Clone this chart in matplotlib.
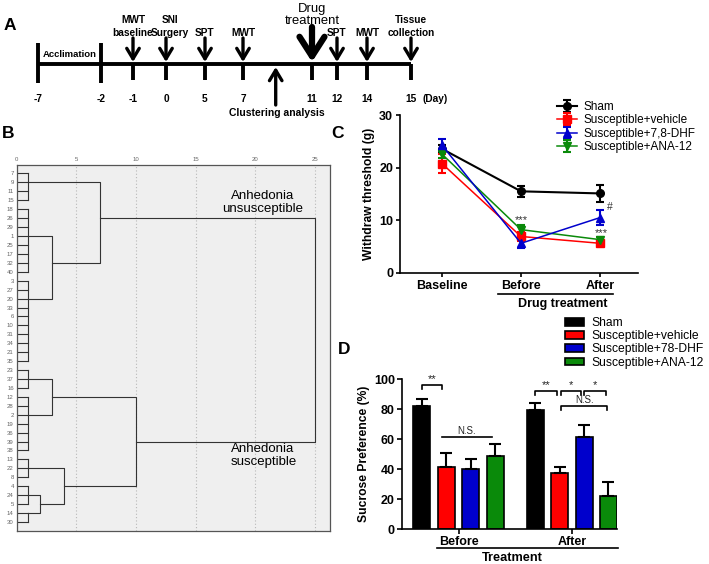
import matplotlib.pyplot as plt
import numpy as np

plt.rcParams["font.family"] = ["Liberation Sans", "DejaVu Sans"]

W, H = 709, 564

# ---------------- panel A: experiment timeline
DAY_LABELS = ["-7", "-2", "-1", "0", "5", "7", "11", "12", "14", "15"]
EVENT_LABELS = ["", "", "MWT\nbaseline", "SNI\nSurgery", "SPT", "MWT",
                "Drug\ntreatment", "SPT", "MWT", "Tissue\ncollection"]
PHASE_LABEL = "Acclimation"
CLUSTER_LABEL = "Clustering analysis"

# ---------------- panel B: hierarchical clustering (rescaled distance)
LEAVES = ["7", "9", "11", "15", "18", "26", "29", "1", "25", "17", "32", "40",
          "3", "27", "20", "33", "6", "10", "31", "34", "21", "35",
          "23", "37", "16", "12", "28", "2", "19", "36", "39", "38",
          "13", "22", "8", "4", "24", "5", "14", "30"]
# (name, first leaf row, last leaf row, join distance, node row)
LEAF_GROUPS = [("g1", 0, 3, 1, 1), ("g2", 4, 11, 1, 7), ("g3", 12, 21, 1, 14),
               ("g4", 22, 24, 1, 23), ("g5", 25, 31, 1, 27), ("g6", 32, 34, 1, 33),
               ("g7", 35, 37, 1, 36), ("g8", 38, 39, 1, 38)]
# (node a, node b, join distance, new node, node row)
MERGES = [("g2", "g3", 3, "m23", 10), ("g1", "m23", 7, "unsus", 5),
          ("g4", "g5", 3, "m45", 25), ("g7", "g8", 2, "m78", 37),
          ("g6", "m78", 4, "m678", 35), ("m45", "m678", 10, "sus", 30),
          ("unsus", "sus", 25, "root", None)]

# ---------------- panel C: mechanical withdrawal threshold
C_TIMES = ["Baseline", "Before", "After"]
C_GROUPS = ["Sham", "Susceptible+vehicle", "Susceptible+7,8-DHF", "Susceptible+ANA-12"]
C_MEAN = [[23.6, 15.5, 15.1], [20.8, 6.9, 5.6], [24.3, 5.6, 10.5], [22.6, 8.2, 6.3]]
C_SEM = [[0.8, 1.0, 1.7], [1.8, 0.8, 0.5], [1.2, 0.9, 1.35], [0.8, 0.9, 0.5]]

# ---------------- panel D: sucrose preference
D_TIMES = ["Before", "After"]
D_GROUPS = ["Sham", "Susceptible+vehicle", "Susceptible+78-DHF", "Susceptible+ANA-12"]
D_MEAN = [[82.2, 41.6, 39.9, 49.0], [79.5, 37.6, 61.2, 22.3]]
D_SEM = [[4.4, 9.0, 7.0, 7.8], [5.0, 3.6, 8.3, 9.3]]

COLORS = ["#000000", "#ff0000", "#0000cc", "#0a8a0a"]
MARKERS = ["o", "s", "^", "v"]


def px_box(left, top, right, bottom):
    return [left / W, 1 - bottom / H, (right - left) / W, (bottom - top) / H]


fig = plt.figure(figsize=(W / 100, H / 100), dpi=100)

# ---------------- B
axB = fig.add_axes(px_box(16.5, 165, 330, 530.7))
axB.set_facecolor("#efefef")
dcol = "#333333"
nodes = {}
for name, r0, r1, dist, row in LEAF_GROUPS:
    for r in range(r0, r1 + 1):
        axB.plot([0, dist], [r, r], color=dcol, lw=0.8)
    axB.plot([dist, dist], [r0, r1], color=dcol, lw=0.8)
    nodes[name] = (dist, row)
for a, b, dist, name, row in MERGES:
    xa, ya = nodes[a]
    xb, yb = nodes[b]
    axB.plot([xa, dist, dist, xb], [ya, ya, yb, yb], color=dcol, lw=0.8)
    nodes[name] = (dist, row)
axB.set_xlim(0, 26.26)
axB.set_ylim(39.98, -0.95)
axB.xaxis.tick_top()
axB.set_xticks(np.arange(0, 26, 5))
axB.set_yticks(np.arange(len(LEAVES)))
axB.set_yticklabels(LEAVES)
axB.tick_params(length=0, labelsize=4.3, labelcolor="#666666", pad=2)
axB.grid(axis="x", ls=(0, (1, 2)), color="#b8b8b8", lw=0.8)
for s in axB.spines.values():
    s.set_color("#555555")
    s.set_linewidth(0.9)
axB.text(20.6, 3.2, "Anhedonia\nunsusceptible", ha="center", va="center",
         fontsize=9.5, linespacing=1.1)
axB.text(17.96, 31.55, "Anhedonia\nsusceptible", ha="left", va="center",
         fontsize=9.5, linespacing=1.1)

# ---------------- C
axC = fig.add_axes(px_box(400, 115.2, 638, 272.7))
xc = np.arange(len(C_TIMES))
handles = [None] * len(C_GROUPS)
for i in [0, 1, 3, 2]:
    h = axC.errorbar(xc, C_MEAN[i], yerr=C_SEM[i], color=COLORS[i], marker=MARKERS[i],
                     ms=5.5, lw=1.5 if i == 0 else 1.1, elinewidth=1.5, capsize=3,
                     capthick=1.5, label=C_GROUPS[i])
    handles[i] = h
axC.set_xlim(-0.53, 2.48)
axC.set_ylim(0, 30)
axC.set_yticks([0, 10, 20, 30])
axC.set_xticks(xc)
axC.set_xticklabels(C_TIMES)
axC.spines[["top", "right"]].set_visible(False)
for s in axC.spines.values():
    s.set_linewidth(1.2)
axC.tick_params(width=1.2, length=3, labelsize=9, pad=2)
for t in axC.get_xticklabels() + axC.get_yticklabels():
    t.set_fontweight("bold")
axC.set_ylabel("Withdraw threshold (g)", fontsize=8.7, fontweight="bold", labelpad=3)
axC.text(1, 10.0, "***", ha="center", va="center", fontsize=8, color="#333333")
axC.text(2.02, 7.6, "***", ha="center", va="center", fontsize=8, color="#333333")
axC.text(2.12, 12.5, "#", ha="center", va="center", fontsize=7.5, color="#333333")
axC.legend(handles=handles, labels=C_GROUPS, loc="upper left",
           bbox_to_anchor=(556.7 / W, 1 - 101 / H), bbox_transform=fig.transFigure,
           frameon=False, borderpad=0, borderaxespad=0, fontsize=8.5,
           handlelength=1.7, handletextpad=0.6, labelspacing=0.12)

# ---------------- D
axD = fig.add_axes(px_box(401.7, 379.3, 617, 529))
n = len(D_GROUPS)
group_step = n + 0.65
bars = []
for g, t in enumerate(D_TIMES):
    pos = g * group_step + np.arange(n)
    for i in range(n):
        b = axD.bar(pos[i], D_MEAN[g][i], width=0.7, color=COLORS[i], edgecolor="black",
                    lw=1.2, yerr=[[0], [D_SEM[g][i]]],
                    error_kw=dict(ecolor="black", elinewidth=1.5, capsize=4.5, capthick=1.5),
                    label=D_GROUPS[i] if g == 0 else None)
        if g == 0:
            bars.append(b)
axD.set_xlim(-0.83, 8.0)
axD.set_ylim(0, 100)
axD.set_yticks(np.arange(0, 101, 20))
axD.set_xticks([i * group_step + (n - 1) / 2 for i in range(len(D_TIMES))])
axD.set_xticklabels(D_TIMES)
axD.spines[["top", "right"]].set_visible(False)
for s in axD.spines.values():
    s.set_linewidth(1.2)
axD.tick_params(width=1.2, length=3.5, labelsize=9, pad=1.5)
for t in axD.get_xticklabels() + axD.get_yticklabels():
    t.set_fontweight("bold")
axD.set_ylabel("Sucrose Preference (%)", fontsize=8.7, fontweight="bold", labelpad=3)


def bracket(ax, x0, x1, y, label, drop=2.9, fs=8, text_dy=0.6):
    if drop:
        ax.plot([x0, x0, x1, x1], [y - drop, y, y, y - drop], color="black", lw=1.2)
    else:
        ax.plot([x0, x1], [y, y], color="black", lw=1.2)
    ax.text((x0 + x1) / 2, y + text_dy, label, ha="center", va="bottom", fontsize=fs,
            color="#222222")


bracket(axD, 0.0, 0.83, 96.2, "**")
bracket(axD, 0.82, 2.86, 61.7, "N.S.", drop=0, fs=7)
a0 = group_step
bracket(axD, a0 - 0.02, a0 + 0.87, 92.4, "**")
bracket(axD, a0 + 1.05, a0 + 1.87, 92.4, "*")
bracket(axD, a0 + 2.01, a0 + 2.89, 92.4, "*")
bracket(axD, a0 + 1.05, a0 + 2.95, 82.2, "N.S.", fs=7)
axD.legend(handles=bars, labels=D_GROUPS, loc="upper left",
           bbox_to_anchor=(565 / W, 1 - 317 / H), bbox_transform=fig.transFigure,
           frameon=False, borderpad=0, borderaxespad=0, fontsize=8.7,
           handlelength=1.55, handleheight=0.6, handletextpad=0.6, labelspacing=0.1)

# ---------------- overlay: timeline, panel letters, group labels (pixel units)
ov = fig.add_axes([0, 0, 1, 1])
ov.set_xlim(0, W)
ov.set_ylim(H, 0)
ov.axis("off")
ov.patch.set_alpha(0)

TL_X = [37.7, 101, 133, 166, 205, 243, 312, 337, 367, 411]
TL_Y = 64
ov.plot([TL_X[0], TL_X[-1]], [TL_Y, TL_Y], color="black", lw=2.8, solid_capstyle="butt")
for i, (x, day, ev) in enumerate(zip(TL_X, DAY_LABELS, EVENT_LABELS)):
    if ev == "":
        ov.plot([x, x], [43, 83], color="black", lw=2.8, solid_capstyle="butt")
    else:
        ov.plot([x, x], [TL_Y, 80], color="black", lw=2.8, solid_capstyle="butt")
        big = ev.startswith("Drug")
        ov.annotate("", xy=(x, 62), xytext=(x, 27 if big else 38),
                    arrowprops=dict(arrowstyle="->,head_length=1.4,head_width=0.9" if big
                                    else "->,head_length=0.75,head_width=0.45",
                                    lw=4.5 if big else 2.4, color="black",
                                    mutation_scale=10, shrinkA=0, shrinkB=0))
        if big:
            ov.text(x, 27, ev, ha="center", va="bottom", fontsize=9.4, linespacing=1.0)
        else:
            dx = 4 if ev.startswith("SNI") else 0
            ov.text(x + dx, 38.5, ev, ha="center", va="bottom", fontsize=7.3,
                    fontweight="bold", linespacing=1.4)
    ov.text(x, 99, day, ha="center", va="center", fontsize=7.3, fontweight="bold")
ov.text(435, 99, "(Day)", ha="center", va="center", fontsize=7.3, fontweight="bold")
ov.text(70, 54.3, PHASE_LABEL, ha="center", va="center", fontsize=6.8, fontweight="bold")
ov.annotate("", xy=(275.7, 67), xytext=(275.7, 105),
            arrowprops=dict(arrowstyle="->,head_length=0.75,head_width=0.45", lw=2.4,
                            color="black", mutation_scale=10, shrinkA=0, shrinkB=0))
ov.text(277, 112.7, CLUSTER_LABEL, ha="center", va="center", fontsize=7.5, fontweight="bold")

for letter, (lx, ly) in {"A": (9.5, 25), "B": (8, 133), "C": (337, 133), "D": (344, 350)}.items():
    ov.text(lx, ly, letter, ha="center", va="center", fontsize=12.5, fontweight="bold")

ov.plot([498, 613], [294, 294], color="black", lw=1.2)
ov.text(563, 303.5, "Drug treatment", ha="center", va="center", fontsize=9, fontweight="bold")
ov.plot([436.7, 618], [548.3, 548.3], color="black", lw=1.2)
ov.text(512.5, 558, "Treatment", ha="center", va="center", fontsize=9.2, fontweight="bold")

fig.savefig("out.png", dpi=100)
